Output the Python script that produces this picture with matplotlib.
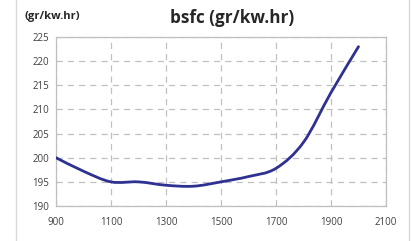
import matplotlib
matplotlib.use("Agg")
import matplotlib.pyplot as plt
import numpy as np
from matplotlib.path import Path
from matplotlib.patches import PathPatch
from matplotlib.lines import Line2D

rpm = [900, 1000, 1100, 1200, 1300, 1400, 1500, 1600, 1700, 1800, 1900, 2000]
bsfc = [200, 197.2, 195, 195, 194.3, 194.1, 195, 196.1, 197.8, 203.2, 213.5, 223]
title = "bsfc (gr/kw.hr)"
unit_label = "(gr/kw.hr)"
xticks = [900, 1100, 1300, 1500, 1700, 1900, 2100]
yticks = [190, 195, 200, 205, 210, 215, 220, 225]

plt.rcParams['font.family'] = ['Open Sans', 'DejaVu Sans']

fig = plt.figure(figsize=(4.11, 2.41), dpi=100)
ax = fig.add_axes([56/411, 1-206/241, (386-56)/411, (206-37)/241])

# smooth curve (Catmull-Rom as cubic Bezier segments)
x = np.array(rpm, float); y = np.array(bsfc, float)
verts = [(x[0], y[0])]; codes = [Path.MOVETO]
n = len(x)
for i in range(n-1):
    p0 = (x[max(i-1, 0)], y[max(i-1, 0)])
    p1 = (x[i], y[i]); p2 = (x[i+1], y[i+1])
    p3 = (x[min(i+2, n-1)], y[min(i+2, n-1)])
    c1 = (p1[0] + (p2[0]-p0[0])/6, p1[1] + (p2[1]-p0[1])/6)
    c2 = (p2[0] - (p3[0]-p1[0])/6, p2[1] - (p3[1]-p1[1])/6)
    verts += [c1, c2, p2]; codes += [Path.CURVE4]*3
ax.add_patch(PathPatch(Path(verts, codes), fill=False, edgecolor='#2E3192',
                       lw=2.0, capstyle='round', zorder=3))

ax.set_xlim(900, 2100)
ax.set_ylim(190, 225)
ax.set_xticks(xticks)
ax.set_yticks(yticks)
ax.grid(True, color='#c0c0c0', linestyle=(0, (5, 4)), lw=0.9)
for s in ax.spines.values():
    s.set_color('#bfbfbf'); s.set_linewidth(0.9)
ax.tick_params(length=0, labelsize=7, colors='#404040', pad=5)
ax.tick_params(axis='x', pad=8)

fig.text(232/411, 1-18/241, title, ha='center', va='center', fontsize=12.3,
         fontweight='bold', color='#262626')
fig.text(24/411, 1-17/241, unit_label, ha='left', va='center', fontsize=8,
         fontweight='bold', color='#262626')

fig.add_artist(Line2D([16/411, 16/411], [0, 1], color='#d9d9d9', lw=1, transform=fig.transFigure))
fig.add_artist(Line2D([409/411, 409/411], [0, 1], color='#d9d9d9', lw=1, transform=fig.transFigure))

fig.savefig("out.png", dpi=100)
